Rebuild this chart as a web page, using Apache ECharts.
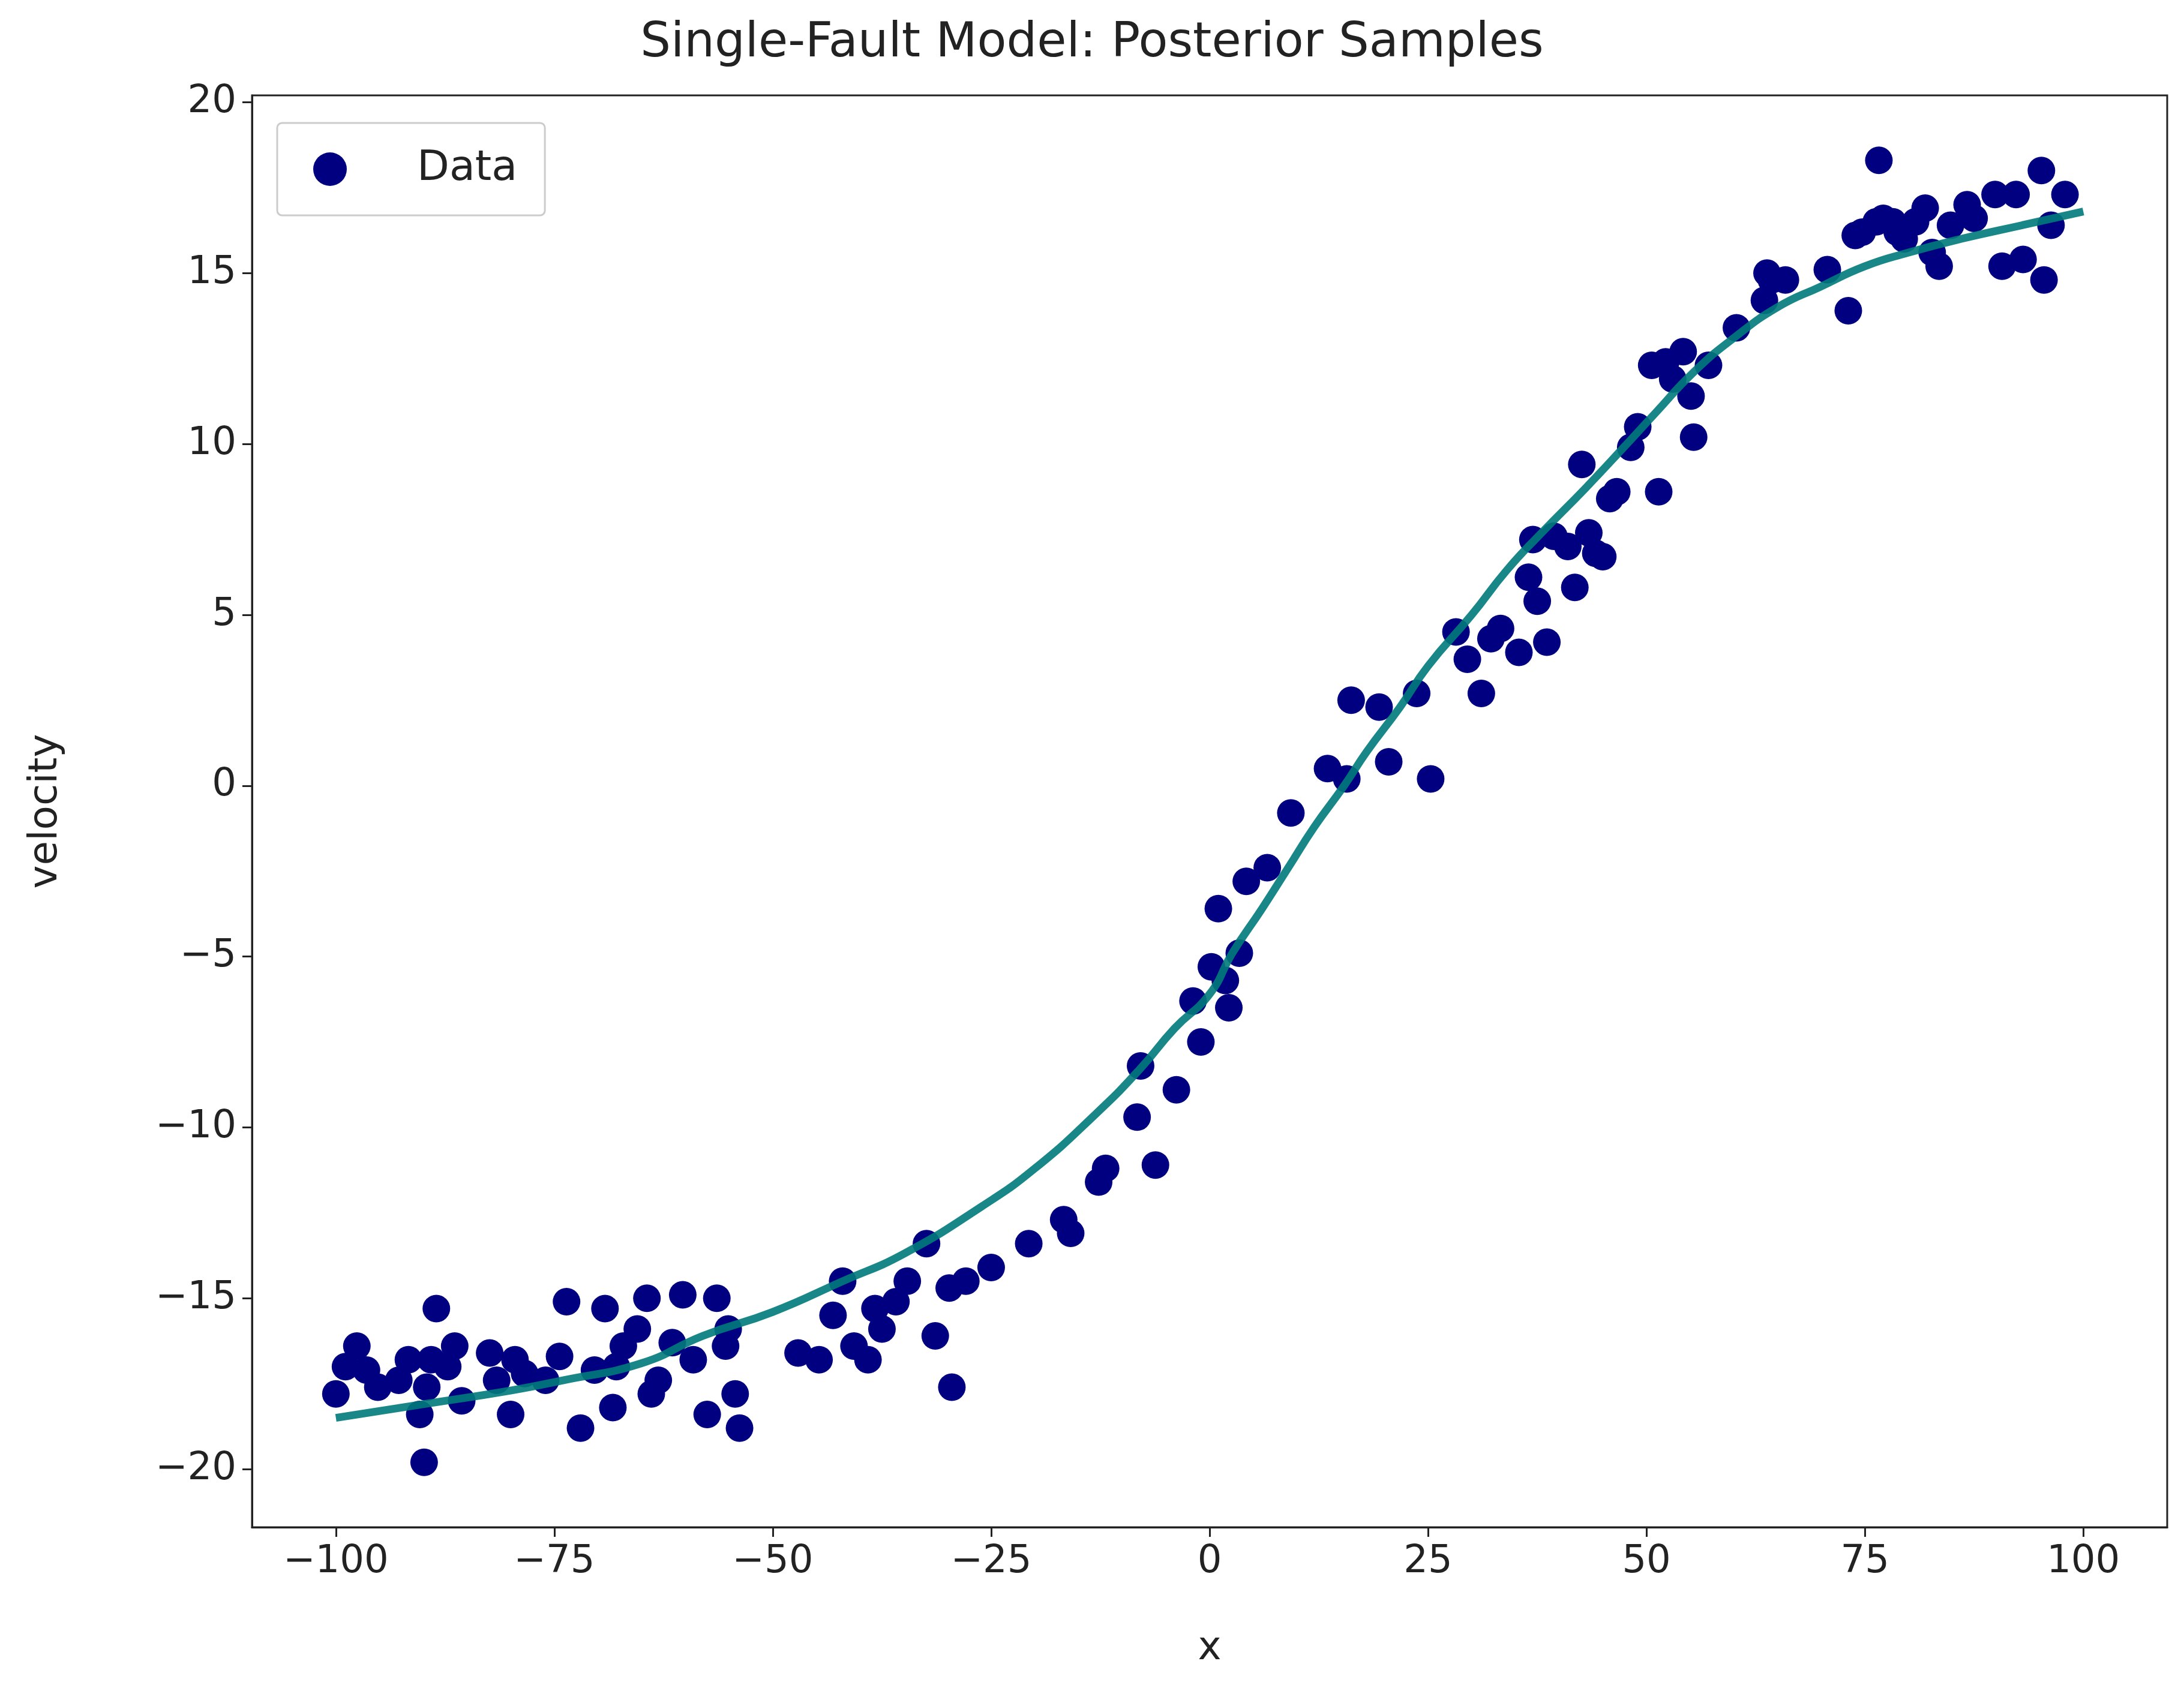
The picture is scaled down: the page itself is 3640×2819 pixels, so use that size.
<!DOCTYPE html>
<html><head><meta charset="utf-8">
<script src="https://cdn.jsdelivr.net/npm/echarts@6/dist/echarts.min.js"></script>
<style>html,body{margin:0;padding:0;background:#fff}#c{width:3640px;height:2819px}</style>
</head><body><div id="c"></div>
<script>
const dataX = [-100,-98.9,-97.6,-96.5,-95.2,-92.8,-91.7,-90.4,-89.9,-89.6,-89.1,-88.5,-87.2,-86.4,-85.6,-82.4,-81.6,-80.0,-79.5,-78.4,-76.0,-74.4,-73.6,-72.0,-70.4,-69.2,-68.3,-67.9,-67.1,-65.5,-64.4,-63.9,-63.1,-61.5,-60.3,-59.1,-57.5,-56.4,-55.4,-54.3,-53.8,-55.1,-47.1,-44.7,-43.1,-42.0,-40.7,-39.1,-38.3,-37.5,-35.9,-34.6,-32.4,-31.4,-29.8,-29.5,-27.9,-25.0,-20.7,-16.7,-15.9,-12.7,-11.9,-8.3,-7.9,-6.2,-3.8,-1.9,-1.0,0.2,1.0,1.8,2.2,3.4,4.2,6.6,9.3,13.5,15.7,16.2,19.4,20.5,23.7,25.3,28.2,29.5,31.1,32.2,33.3,35.4,36.5,37.0,37.5,38.6,39.4,41.0,41.8,42.6,43.4,44.2,45.0,45.8,46.6,48.2,49.0,51.4,52.2,54.2,55.1,55.4,57.1,60.3,63.5,64.3,65.9,70.7,73.1,73.9,76.3,77.1,78.7,79.5,80.8,81.9,82.7,83.5,84.8,86.7,87.5,89.9,90.7,92.3,93.1,95.2,95.5,96.3,97.9,76.6,78.2,74.7,63.8,50.6,53.0];
const dataY = [-17.8,-17.0,-16.4,-17.1,-17.6,-17.4,-16.8,-18.4,-19.8,-17.6,-16.8,-15.3,-17.0,-16.4,-18.0,-16.6,-17.4,-18.4,-16.8,-17.2,-17.4,-16.7,-15.1,-18.8,-17.1,-15.3,-18.2,-17.0,-16.4,-15.9,-15.0,-17.8,-17.4,-16.3,-14.9,-16.8,-18.4,-15.0,-16.4,-17.8,-18.8,-15.9,-16.6,-16.8,-15.5,-14.5,-16.4,-16.8,-15.3,-15.9,-15.1,-14.5,-13.4,-16.1,-14.7,-17.6,-14.5,-14.1,-13.4,-12.7,-13.1,-11.6,-11.2,-9.7,-8.2,-11.1,-8.9,-6.3,-7.5,-5.3,-3.6,-5.7,-6.5,-4.9,-2.8,-2.4,-0.8,0.5,0.2,2.5,2.3,0.7,2.7,0.2,4.5,3.7,2.7,4.3,4.6,3.9,6.1,7.2,5.4,4.2,7.3,7.0,5.8,9.4,7.4,6.8,6.7,8.4,8.6,9.9,10.5,8.6,12.4,12.7,11.4,10.2,12.3,13.4,14.2,14.8,14.8,15.1,13.9,16.1,16.5,16.6,16.2,16.0,16.5,16.9,15.6,15.2,16.4,17.0,16.6,17.3,15.2,17.3,15.4,18.0,14.8,16.4,17.3,18.3,16.5,16.2,15.0,12.3,11.9];
const curveX = [-100,-90,-80,-74,-65,-58,-50,-42,-35,-26,-20,-13,-8,-4,0,2.6,6,9,12,15.4,18,21.8,25,30,34,38,43,47.4,51,55.4,60,65,69.9,75,80,86,93,100];
const curveY = [-18.5,-18.1,-17.7,-17.4,-16.9,-16.1,-15.4,-14.5,-13.7,-12.3,-11.2,-9.6,-8.3,-7.1,-6.1,-4.9,-3.6,-2.4,-1.2,0.0,1.0,2.3,3.5,5.0,6.3,7.4,8.7,9.9,10.9,12.1,13.1,14.0,14.6,15.2,15.6,16.0,16.4,16.8];
const xTicks = [-100,-75,-50,-25,0,25,50,75,100];
const yTicks = [-20,-15,-10,-5,0,5,10,15,20];

const fmt = v => (v < 0 ? '\u2212' + Math.abs(v) : String(v));
const font = 'DejaVu Sans';
const chart = echarts.init(document.getElementById('c'));
chart.setOption({
  animation: false,
  backgroundColor: '#fff',
  textStyle: {fontFamily: font},
  title: {text: 'Single-Fault Model: Posterior Samples', left: 'center', top: 28,
    textStyle: {fontFamily: font, fontSize: 80, fontWeight: 'normal', color: '#222'}},
  legend: {data: ['Data'], left: 462, top: 205, orient: 'vertical',
    itemWidth: 60, itemHeight: 56, itemGap: 10, padding: [42, 46, 42, 60],
    borderColor: '#ccc', borderWidth: 3, borderRadius: 8,
    textStyle: {fontFamily: font, fontSize: 70, color: '#222', padding: [0,0,0,110]}},
  grid: {left: 420, right: 28, top: 159, bottom: 273, show: true, borderColor: '#222', borderWidth: 3},
  xAxis: {type: 'value', min: -109.6, max: 109.6, name: 'x', nameLocation: 'middle', nameGap: 170,
    nameTextStyle: {fontFamily: font, fontSize: 66, color: '#222'},
    axisLine: {show: true, onZero: false, lineStyle: {color: '#222', width: 3}},
    axisTick: {show: true, length: 16, lineStyle: {color: '#222', width: 3}, customValues: xTicks},
    axisLabel: {fontSize: 64, color: '#222', margin: 26, formatter: fmt, customValues: xTicks},
    splitLine: {show: false}},
  yAxis: {type: 'value', min: -21.7, max: 20.2, name: 'velocity', nameLocation: 'middle', nameGap: 310,
    nameTextStyle: {fontFamily: font, fontSize: 66, color: '#222'},
    axisLine: {show: true, onZero: false, lineStyle: {color: '#222', width: 3}},
    axisTick: {show: true, length: 16, lineStyle: {color: '#222', width: 3}, customValues: yTicks},
    axisLabel: {fontSize: 64, color: '#222', margin: 26, formatter: fmt, customValues: yTicks},
    splitLine: {show: false}},
  series: [
    {name: 'Data', type: 'scatter', symbolSize: 46, itemStyle: {color: '#000080', opacity: 1},
      data: dataX.map((x, i) => [x, dataY[i]]), z: 2},
    {name: 'Posterior', type: 'line', smooth: true, showSymbol: false, symbol: 'none',
      lineStyle: {color: '#007a7a', width: 13, opacity: 0.9},
      data: curveX.map((x, i) => [x, curveY[i]]), z: 3}
  ]
});
</script></body></html>
